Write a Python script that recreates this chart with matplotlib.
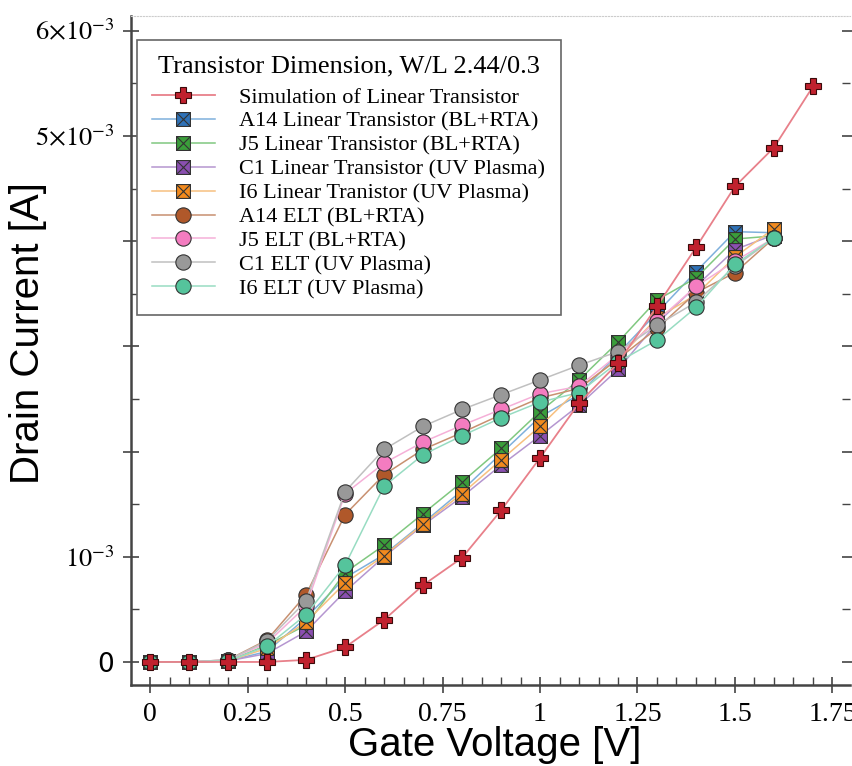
import matplotlib
matplotlib.use("Agg")
import matplotlib.pyplot as plt
from matplotlib.path import Path
import numpy as np

plt.rcParams['mathtext.fontset'] = 'stix'

# gate voltage steps
x_sim = [0, 0.1, 0.2, 0.3, 0.4, 0.5, 0.6, 0.7, 0.8, 0.9, 1.0, 1.1, 1.2, 1.3, 1.4, 1.5, 1.6, 1.7]
x_meas = [0, 0.1, 0.2, 0.3, 0.4, 0.5, 0.6, 0.7, 0.8, 0.9, 1.0, 1.1, 1.2, 1.3, 1.4, 1.5, 1.6]

# drain currents in mA (scaled to A below)
sim = [0, 0, 0, 0, 0.02, 0.14, 0.40, 0.73, 0.99, 1.44, 1.94, 2.46, 2.84, 3.38, 3.94, 4.52, 4.89, 5.47]
a14_lin = [0, 0, 0.01, 0.10, 0.42, 0.80, 1.02, 1.32, 1.63, 1.98, 2.33, 2.54, 2.93, 3.32, 3.71, 4.09, 4.08]
j5_lin = [0, 0, 0.01, 0.16, 0.35, 0.85, 1.11, 1.41, 1.71, 2.03, 2.38, 2.68, 3.04, 3.44, 3.65, 4.02, 4.05]
c1_lin = [0, 0, 0.01, 0.08, 0.29, 0.67, 1.00, 1.30, 1.57, 1.87, 2.15, 2.44, 2.78, 3.22, 3.57, 3.92, 4.06]
i6_lin = [0, 0, 0.01, 0.13, 0.38, 0.75, 1.01, 1.31, 1.60, 1.92, 2.24, 2.60, 2.88, 3.27, 3.49, 3.85, 4.12]
a14_elt = [0, 0, 0.02, 0.21, 0.64, 1.40, 1.78, 2.02, 2.18, 2.35, 2.51, 2.60, 2.88, 3.17, 3.51, 3.70, 4.03]
j5_elt = [0, 0, 0.02, 0.18, 0.53, 1.60, 1.89, 2.09, 2.25, 2.40, 2.55, 2.62, 2.92, 3.24, 3.57, 3.81, 4.03]
c1_elt = [0, 0, 0.02, 0.20, 0.58, 1.62, 2.02, 2.24, 2.40, 2.54, 2.68, 2.82, 2.95, 3.20, 3.42, 3.76, 4.03]
i6_elt = [0, 0, 0.01, 0.15, 0.45, 0.92, 1.67, 1.97, 2.15, 2.32, 2.47, 2.56, 2.85, 3.06, 3.37, 3.78, 4.03]

labels = ['Simulation of Linear Transistor',
          'A14 Linear Transistor (BL+RTA)',
          'J5 Linear Transistor (BL+RTA)',
          'C1 Linear Transistor (UV Plasma)',
          'I6 Linear Tranistor (UV Plasma)',
          'A14 ELT (BL+RTA)',
          'J5 ELT (BL+RTA)',
          'C1 ELT (UV Plasma)',
          'I6 ELT (UV Plasma)']

# square with a cross inside
boxx = Path([(-1, -1), (1, -1), (1, 1), (-1, 1), (-1, -1), (-1, -1), (1, 1), (-1, 1), (1, -1)],
            [Path.MOVETO, Path.LINETO, Path.LINETO, Path.LINETO, Path.CLOSEPOLY,
             Path.MOVETO, Path.LINETO, Path.MOVETO, Path.LINETO])

fig = plt.figure(figsize=(8.53, 7.66), dpi=100)
ax = fig.add_axes([131/853, 81/766, 719/853, 669/766])

s = 1e-3
ax.plot(x_sim, np.array(sim)*s, '-', color='#e8808a', lw=1.3, marker='P', ms=11,
        mfc='#c0212e', mec='#3a0a0a', mew=0.8, label=labels[0], zorder=5)

series = [(a14_lin, '#2f72b8', '#7fb0dc', boxx, 10),
          (j5_lin, '#3a9e3a', '#80c880', boxx, 10),
          (c1_lin, '#8a4fb0', '#b596d0', boxx, 10),
          (i6_lin, '#f28a1e', '#f7c080', boxx, 10),
          (a14_elt, '#b0582a', '#c89070', 'o', 11),
          (j5_elt, '#f47cc0', '#f5b0d8', 'o', 11),
          (c1_elt, '#999999', '#c0c0c0', 'o', 11),
          (i6_elt, '#55c49c', '#98dcc2', 'o', 11)]

for (yv, fc, lc, mk, ms), lab in zip(series, labels[1:]):
    ax.plot(x_meas, np.array(yv)*s, '-', color=lc, lw=1.1, marker=mk, ms=ms,
            mfc=fc, mec='#333333', mew=0.8, label=lab)

ax.set_xlim(-0.049, 1.795)
ax.set_ylim(-0.219e-3, 6.14e-3)

ax.set_xticks([0, 0.25, 0.5, 0.75, 1, 1.25, 1.5, 1.75])
ax.set_xticklabels(['0', '0.25', '0.5', '0.75', '1', '1.25', '1.5', '1.75'],
                   family='Liberation Serif', fontsize=20)
ax.set_xticks(np.arange(0, 1.8, 0.05), minor=True)

ax.set_yticks([0, 1e-3, 2e-3, 3e-3, 4e-3, 5e-3, 6e-3])
ax.set_yticklabels(['0', r'$10^{-3}$', '', '', '', r'$5{\times}10^{-3}$', r'$6{\times}10^{-3}$'],
                   fontsize=19)
ax.set_yticks(np.arange(0, 6.1e-3, 0.5e-3), minor=True)

ax.tick_params(which='major', direction='inout', length=12, width=1.2, color='#444444',
               right=True, pad=6)
ax.tick_params(which='minor', direction='in', length=6, width=1, color='#444444', right=True)

for side in ['left', 'bottom']:
    ax.spines[side].set_linewidth(1.8)
    ax.spines[side].set_color('#444444')
ax.spines['right'].set_visible(False)
ax.spines['top'].set_color('#cccccc')
ax.spines['top'].set_linestyle(':')

ax.set_xlabel('Gate Voltage [V]', family='Liberation Sans', fontsize=29)
ax.set_ylabel('Drain Current [A]', family='Liberation Sans', fontsize=29)
ax.xaxis.set_label_coords(0.506, -0.062)
ax.yaxis.set_label_coords(-0.117, 0.526)

leg = ax.legend(loc='upper left', bbox_to_anchor=(0.008, 0.964), borderaxespad=0,
                title='Transistor Dimension, W/L 2.44/0.3',
                prop={'family': 'Liberation Serif', 'size': 16},
                title_fontproperties={'family': 'Liberation Serif', 'size': 19},
                fancybox=False, edgecolor='#666666', framealpha=1,
                handlelength=2.8, handletextpad=1.1, labelspacing=0.15, borderpad=0.7)
leg.get_frame().set_linewidth(1.2)
leg._legend_box.sep = 7  # a bit more room under the title

plt.savefig('out.png', dpi=100)
